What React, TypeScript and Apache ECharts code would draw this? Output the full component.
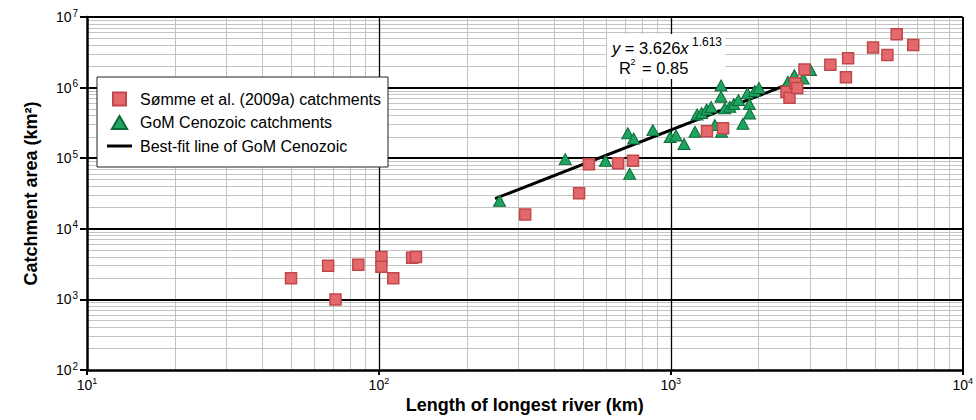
import React, { useEffect, useRef } from "react";
import * as echarts from "echarts";

// ---- Data ----
// Sømme et al. (2009a) catchments: river length (km), catchment area (km²)
const sommeLength = [50, 67, 71, 85, 102, 102, 112, 130, 134, 317, 485, 524, 660, 742, 1330, 1510, 2490, 2550, 2670, 2710, 2870, 3520, 3980, 4050, 4930, 5520, 5940, 6770];
const sommeArea = [2000, 3000, 1000, 3100, 4000, 2900, 2000, 3900, 4000, 16000, 32000, 82000, 85000, 92000, 240000, 265000, 870000, 720000, 1150000, 990000, 1800000, 2100000, 1400000, 2600000, 3700000, 2900000, 5700000, 4000000];

// GoM Cenozoic catchments
const gomLength = [259, 435, 597, 723, 712, 746, 868, 995, 1042, 1110, 1210, 1230, 1275, 1326, 1374, 1415, 1492, 1486, 1486, 1531, 1592, 1643, 1705, 1766, 1830, 1858, 1862, 1938, 2005, 2518, 2650, 2840, 3010];
const gomArea = [25000, 97000, 92000, 60000, 225000, 190000, 250000, 200000, 210000, 159000, 237000, 415000, 437000, 490000, 530000, 295000, 237000, 1070000, 743000, 510000, 536000, 586000, 667000, 308000, 830000, 586000, 430000, 895000, 990000, 1210000, 1500000, 1350000, 1780000];

// Best-fit line end points
const fitLength = [250, 2450];
const fitArea = [26800, 1062000];

// Axis decades and minor grid multipliers
const xDecades = [10, 100, 1000, 10000];
const yDecades = [100, 1000, 10000, 100000, 1000000, 10000000];
const minorMultipliers = [2, 3, 4, 5, 6, 7, 8, 9];

const legendNames = [
  "Sømme et al. (2009a) catchments",
  "GoM Cenozoic catchments",
  "Best-fit line of GoM Cenozoic",
];

const FONT = "'Liberation Sans', Arial, Helvetica, sans-serif";
const NARROW = "'Liberation Sans Narrow', 'Liberation Sans', Arial, sans-serif";

function supLabel(v: number) {
  const e = Math.round(Math.log10(v));
  return `{b|10}{s|${e}}`;
}

export default function App() {
  const ref = useRef<HTMLDivElement>(null);

  useEffect(() => {
    document.body.style.margin = "0";
    if (!ref.current) return;
    const chart = echarts.init(ref.current, undefined, { renderer: "svg" });

    const minorX = xDecades.slice(0, -1).flatMap((d) => minorMultipliers.map((m) => d * m));
    const minorY = yDecades.slice(0, -1).flatMap((d) => minorMultipliers.map((m) => d * m));
    const minorStyle = { color: "#c3c3c3", width: 1, type: "solid" as const };

    const gridLines: any[] = [
      ...minorX.map((v) => ({ xAxis: v, lineStyle: minorStyle })),
      ...minorY.map((v) => ({ yAxis: v, lineStyle: minorStyle })),
      ...xDecades.slice(1).map((v) => ({
        xAxis: v,
        lineStyle: { color: "#000", width: v === 10000 ? 2 : 1.3, type: "solid" },
      })),
      ...yDecades.slice(1).map((v) => ({
        yAxis: v,
        lineStyle: { color: "#000", width: 2.2, type: "solid" },
      })),
    ];

    const sommeData = sommeLength.map((x, i) => [x, sommeArea[i]]);
    const gomData = gomLength.map((x, i) => [x, gomArea[i]]);
    const fitData = fitLength.map((x, i) => [x, fitArea[i]]);

    const axisRich = {
      b: { fontSize: 14, fontFamily: FONT, color: "#000" },
      s: { fontSize: 10, fontFamily: FONT, color: "#000", padding: [0, 0, 8, 1] },
    };
    const xRich = {
      b: { fontSize: 14, fontFamily: NARROW, color: "#000" },
      s: { fontSize: 9, fontFamily: NARROW, color: "#000", padding: [0, 0, 8, 0] },
    };

    const option: any = {
      animation: false,
      grid: { left: 87, top: 17, width: 880, height: 353, containLabel: false },
      xAxis: {
        type: "log",
        logBase: 10,
        min: 10,
        max: 10000,
        splitNumber: 3,
        z: 6,
        name: "Length of longest river (km)",
        nameLocation: "middle",
        nameGap: 26,
        nameTextStyle: { fontFamily: FONT, fontWeight: "bold", fontSize: 18, color: "#000" },
        axisLine: { show: true, lineStyle: { color: "#000", width: 2.5 } },
        axisTick: { show: true, inside: false, length: 5, lineStyle: { color: "#000", width: 2 } },
        axisLabel: { margin: 6, formatter: supLabel, rich: xRich },
        splitLine: { show: false },
        minorTick: { show: false },
        minorSplitLine: { show: false },
      },
      yAxis: {
        type: "log",
        logBase: 10,
        min: 100,
        max: 10000000,
        splitNumber: 5,
        z: 6,
        name: "Catchment area (km²)",
        nameLocation: "middle",
        nameGap: 47,
        nameRotate: 90,
        nameTextStyle: { fontFamily: FONT, fontWeight: "bold", fontSize: 18, color: "#000" },
        axisLine: { show: true, lineStyle: { color: "#000", width: 2.5 } },
        axisTick: { show: true, inside: false, length: 7, lineStyle: { color: "#000", width: 2 } },
        axisLabel: { margin: 9, formatter: supLabel, rich: axisRich },
        splitLine: { show: false },
        minorTick: { show: false },
        minorSplitLine: { show: false },
      },
      legend: {
        orient: "vertical",
        left: 97,
        top: 77,
        z: 20,
        backgroundColor: "#fff",
        borderColor: "#222",
        borderWidth: 1,
        padding: [13, 7, 12, 10],
        itemGap: 5.5,
        itemWidth: 25,
        itemHeight: 13,
        symbolKeepAspect: true,
        selectedMode: false,
        textStyle: { fontFamily: FONT, fontSize: 16, color: "#000", lineHeight: 18, padding: [0, 0, 0, 3] },
        data: [
          { name: legendNames[0], icon: "path://M0,0L12,0L12,12L0,12Z" },
          { name: legendNames[1], icon: "path://M7,0L14,12L0,12Z" },
          { name: legendNames[2], icon: "path://M0,0L25,0L25,3L0,3Z" },
        ],
      },
      series: [
        {
          name: legendNames[0],
          type: "scatter",
          symbol: "rect",
          symbolSize: 11,
          z: 11,
          data: sommeData,
          itemStyle: { color: "#e4696c", borderColor: "#c2474b", borderWidth: 1.5, opacity: 1 },
          emphasis: { disabled: true },
        },
        {
          name: legendNames[1],
          type: "scatter",
          symbol: "triangle",
          symbolSize: [12, 11],
          z: 10,
          data: gomData,
          itemStyle: { color: "#1ea45f", borderColor: "#0c6a3a", borderWidth: 1, opacity: 1 },
          emphasis: { disabled: true },
        },
        {
          name: legendNames[2],
          type: "line",
          symbol: "none",
          z: 8,
          data: fitData,
          lineStyle: { color: "#000", width: 3 },
          itemStyle: { color: "#000" },
          emphasis: { disabled: true },
          markLine: {
            silent: true,
            animation: false,
            symbol: ["none", "none"],
            label: { show: false },
            lineStyle: { type: "solid", color: "#c3c3c3", width: 1 },
            emphasis: { disabled: true },
            data: gridLines,
          },
        },
      ],
      graphic: [
        {
          type: "rect",
          z: 20,
          shape: { x: 607, y: 34, width: 118, height: 45 },
          style: { fill: "#fff" },
        },
        {
          type: "text",
          z: 21,
          x: 612,
          y: 48,
          style: {
            text: "{i|y} = 3.626{i|x}",
            fontFamily: FONT,
            fontSize: 16.5,
            fill: "#000",
            verticalAlign: "middle",
            rich: {
              i: { fontFamily: FONT, fontSize: 16.5, fontStyle: "italic", fill: "#000" },
            },
          },
        },
        {
          type: "text",
          z: 21,
          x: 692,
          y: 42,
          style: { text: "1.613", fontFamily: FONT, fontSize: 12, fill: "#000", verticalAlign: "middle" },
        },
        {
          type: "text",
          z: 21,
          x: 619,
          y: 68,
          style: { text: "R", fontFamily: FONT, fontSize: 16.5, fill: "#000", verticalAlign: "middle" },
        },
        {
          type: "text",
          z: 21,
          x: 630.5,
          y: 62,
          style: { text: "2", fontFamily: FONT, fontSize: 9, fill: "#000", verticalAlign: "middle" },
        },
        {
          type: "text",
          z: 21,
          x: 642,
          y: 68,
          style: { text: "= 0.85", fontFamily: FONT, fontSize: 16.5, fill: "#000", verticalAlign: "middle" },
        },
      ],
    };

    chart.setOption(option);
    return () => chart.dispose();
  }, []);

  return (
    <div
      ref={ref}
      style={{ position: "absolute", left: 0, top: 0, width: 976, height: 420, background: "#fff" }}
    />
  );
}
